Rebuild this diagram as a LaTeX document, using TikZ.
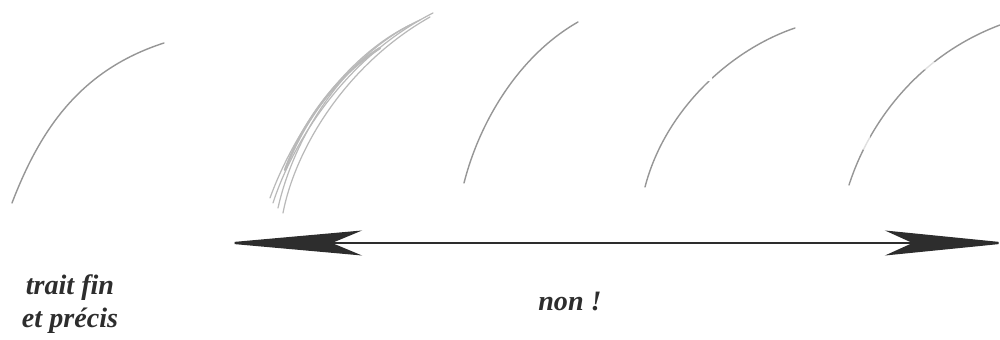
\documentclass[tikz,border=0pt]{standalone}
\usepackage{fontspec}
\setmainfont{Liberation Serif}
\usetikzlibrary{arrows.meta}
\definecolor{pencil}{RGB}{150,150,150}
\definecolor{pencilL}{RGB}{185,185,185}
\definecolor{ink}{RGB}{45,45,45}
\tikzset{
  stroke/.style={draw=pencil, line width=0.8pt, line cap=round},
  lightstroke/.style={draw=pencilL, line width=0.7pt, line cap=round},
  label/.style={font=\fontsize{16}{19}\selectfont\bfseries\itshape, text=ink, align=center, inner sep=0pt},
  bigarrow/.style={draw=ink, line width=1.3pt, {Stealth[length=2.8cm,width=0.5cm,inset=0.6cm]}-{Stealth[length=2.5cm,width=0.5cm,inset=0.55cm]}}
}
\begin{document}
\begin{tikzpicture}[x=0.02cm,y=-0.02cm]
\useasboundingbox (0,0) rectangle (1000,340);
% 1: fine precise stroke
\draw[stroke] (12,203) .. controls (40,130) and (80,70) .. (164,43);
% 2: multiple hesitant strokes
\draw[lightstroke] (273,203) .. controls (290,150) and (340,60) .. (433,13);
\draw[lightstroke] (283,213) .. controls (295,150) and (345,65) .. (430,17);
\draw[lightstroke] (278,208) .. controls (292,145) and (338,58) .. (420,20);
\draw[lightstroke] (270,198) .. controls (288,148) and (335,62) .. (410,25);
\draw[stroke, draw=pencilL, line width=1.4pt] (285,170) .. controls (300,130) and (330,80) .. (380,48);
% 3: jagged stroke
\draw[stroke] (464,183) .. controls (480,120) and (520,55) .. (578,22);
% 4: interrupted stroke
\draw[stroke] (645,187) .. controls (665,110) and (730,50) .. (795,28);
\fill[white] (710,79) circle (2.5);
% 5: smudged stroke
\draw[stroke] (849,185) .. controls (870,120) and (920,55) .. (1000,25);
\fill[white, opacity=0.7] (866,142) ellipse (5 and 9);
\fill[white, opacity=0.7] (928,65) ellipse (8 and 5);
% arrow
\coordinate (L) at (222,243);
\coordinate (R) at (1010,243);
\draw[bigarrow] (L) -- (R);
% labels
\node[label] (t1) at (70,304) {trait fin\\et précis};
\node[label] (t2) at (570,301) {non !};
\end{tikzpicture}
\end{document}
